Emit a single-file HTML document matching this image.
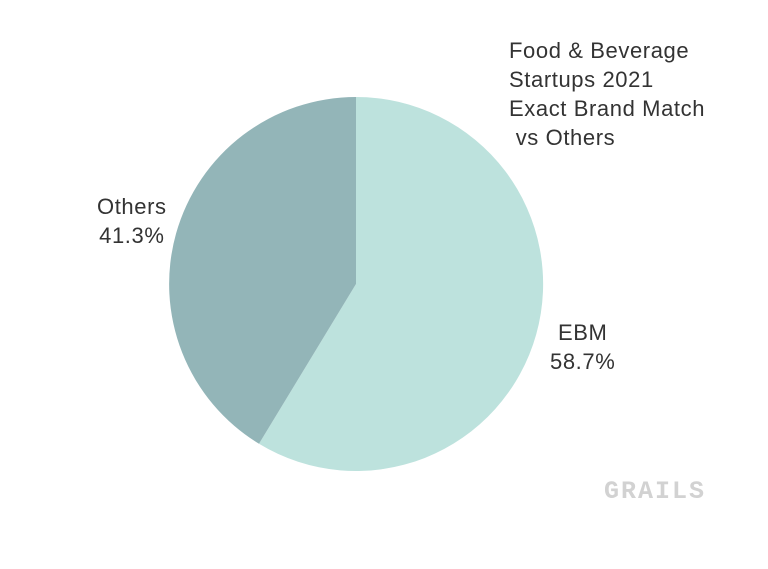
<!DOCTYPE html>
<html><head><style>
html,body{margin:0;padding:0;background:#fff;}
body{width:768px;height:569px;position:relative;overflow:hidden;font-family:"Liberation Sans",sans-serif;}
.t{position:absolute;font-size:22px;color:#333;line-height:29px;letter-spacing:0.6px;}
</style></head><body>
<svg width="768" height="569" style="position:absolute;left:0;top:0">
<path d="M356,284 L356,97 A187,187 0 1,1 259,443.8 Z" fill="#bde2dd"/>
<path d="M356,284 L259,443.8 A187,187 0 0,1 356,97 Z" fill="#93b5b8"/>
<text x="655" y="498" font-family="Liberation Mono,monospace" font-weight="bold" font-size="25" fill="#d2d2d2" text-anchor="middle" letter-spacing="2">GRAILS</text>
</svg>
<div class="t" style="left:509px;top:36px;">Food &amp; Beverage<br>Startups 2021<br>Exact Brand Match<br>&nbsp;vs Others</div>
<div class="t" style="left:97px;top:192px;text-align:center;">Others<br>41.3%</div>
<div class="t" style="left:550px;top:318px;text-align:center;">EBM<br>58.7%</div>
</body></html>
